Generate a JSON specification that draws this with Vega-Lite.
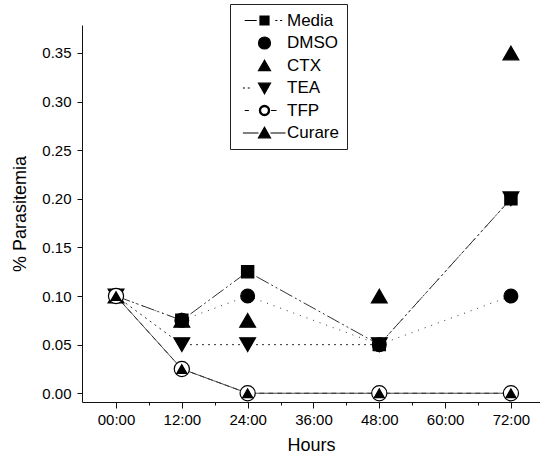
{
  "$schema": "https://vega.github.io/schema/vega-lite/v6.json",
  "width": 458,
  "height": 377,
  "autosize": {"type": "none"},
  "padding": {"left": 82, "top": 25, "right": 0, "bottom": 59},
  "background": "white",
  "config": {
    "view": {"stroke": null},
    "font": "Liberation Sans",
    "axis": {
      "domainColor": "#111",
      "domainWidth": 1,
      "tickColor": "#111",
      "tickWidth": 1,
      "grid": false,
      "labelFont": "Liberation Sans",
      "labelFontSize": 15,
      "labelColor": "#000",
      "titleFont": "Liberation Sans",
      "titleFontSize": 18,
      "titleFontWeight": "normal",
      "titleColor": "#000"
    }
  },
  "data": {
    "values": [
      {"series": "Media", "hour": 0, "value": 0.1},
      {"series": "Media", "hour": 12, "value": 0.075},
      {"series": "Media", "hour": 24, "value": 0.125},
      {"series": "Media", "hour": 48, "value": 0.05},
      {"series": "Media", "hour": 72, "value": 0.2},
      {"series": "DMSO", "hour": 0, "value": 0.1},
      {"series": "DMSO", "hour": 12, "value": 0.075},
      {"series": "DMSO", "hour": 24, "value": 0.1},
      {"series": "DMSO", "hour": 48, "value": 0.05},
      {"series": "DMSO", "hour": 72, "value": 0.1},
      {"series": "CTX", "hour": 0, "value": 0.1},
      {"series": "CTX", "hour": 12, "value": 0.075},
      {"series": "CTX", "hour": 24, "value": 0.075},
      {"series": "CTX", "hour": 48, "value": 0.1},
      {"series": "CTX", "hour": 72, "value": 0.35},
      {"series": "TEA", "hour": 0, "value": 0.1},
      {"series": "TEA", "hour": 12, "value": 0.05},
      {"series": "TEA", "hour": 24, "value": 0.05},
      {"series": "TEA", "hour": 48, "value": 0.05},
      {"series": "TEA", "hour": 72, "value": 0.2},
      {"series": "TFP", "hour": 0, "value": 0.1},
      {"series": "TFP", "hour": 12, "value": 0.025},
      {"series": "TFP", "hour": 24, "value": 0.0},
      {"series": "TFP", "hour": 48, "value": 0.0},
      {"series": "TFP", "hour": 72, "value": 0.0},
      {"series": "Curare", "hour": 0, "value": 0.1},
      {"series": "Curare", "hour": 12, "value": 0.025},
      {"series": "Curare", "hour": 24, "value": 0.0},
      {"series": "Curare", "hour": 48, "value": 0.0},
      {"series": "Curare", "hour": 72, "value": 0.0}
    ]
  },
  "encoding": {
    "x": {
      "field": "hour", "type": "quantitative",
      "scale": {"domain": [-6.2, 77.3], "nice": false, "zero": false},
      "axis": {
        "title": "Hours",
        "values": [0, 6, 12, 18, 24, 30, 36, 42, 48, 54, 60, 66, 72],
        "labelExpr": "datum.value % 12 === 0 ? (datum.value < 10 ? '0' : '') + datum.value + ':00' : ''",
        "tickSize": {"condition": {"test": "datum.value % 12 === 0", "value": 6}, "value": 3},
        "labelPadding": 4,
        "titlePadding": 9
      }
    },
    "y": {
      "field": "value", "type": "quantitative",
      "scale": {"domain": [-0.009, 0.3788], "nice": false, "zero": false},
      "axis": {
        "title": "% Parasitemia",
        "values": [0, 0.05, 0.1, 0.15, 0.2, 0.25, 0.3, 0.35],
        "format": ".2f",
        "tickSize": 5,
        "labelPadding": 6,
        "titlePadding": 12
      }
    }
  },
  "layer": [
    {
      "transform": [{"filter": "datum.series !== 'CTX'"}],
      "mark": {"type": "line", "color": "#333", "strokeWidth": 1},
      "encoding": {
        "strokeDash": {
          "field": "series", "type": "nominal",
          "scale": {
            "domain": ["Media", "DMSO", "TEA", "TFP", "Curare"],
            "range": [[14, 3, 2, 3, 2, 3], [1, 6], [2, 4], [5, 4], [1, 0]]
          },
          "legend": null
        },
        "order": {"field": "hour"}
      }
    },
    {
      "mark": {"type": "point", "filled": true, "stroke": "#000", "strokeWidth": 1.2, "opacity": 1},
      "encoding": {
        "shape": {
          "condition": [
            {"test": "datum.series === 'Media'", "value": "square"},
            {"test": "datum.series === 'CTX'", "value": "triangle-up"},
            {"test": "datum.series === 'TEA'", "value": "triangle-down"},
            {"test": "datum.series === 'Curare'", "value": "triangle-up"}
          ],
          "value": "circle"
        },
        "size": {
          "condition": [
            {"test": "datum.series === 'Media'", "value": 150},
            {"test": "datum.series === 'DMSO'", "value": 190},
            {"test": "datum.series === 'CTX'", "value": 250},
            {"test": "datum.series === 'TEA'", "value": 250},
            {"test": "datum.series === 'TFP'", "value": 230}
          ],
          "value": 100
        },
        "fill": {
          "condition": {"test": "datum.series === 'TFP'", "value": "#fff"},
          "value": "#000"
        }
      }
    },
    {
      "mark": {"type": "point", "filled": true, "fill": "#000", "stroke": "#000", "strokeWidth": 1.2, "opacity": 0},
      "encoding": {
        "shape": {
          "field": "series", "type": "nominal",
          "scale": {
            "domain": ["Media", "DMSO", "CTX", "TEA", "TFP", "Curare"],
            "range": [
              "M-3.3,0H-1.3M-0.75,-0.75H0.75V0.75H-0.75ZM1.8,0H2.15M2.6,0H2.95",
              "circle",
              "triangle-up",
              "M-3.6,0H-3.25M-2.8,0H-2.45M-1,-0.8L1,-0.8L0,0.95Z",
              "M-3.3,0H-2.6M-0.85,0A0.85,0.85,0,1,1,0.85,0A0.85,0.85,0,1,1,-0.85,0ZM-0.66,0A0.66,0.66,0,1,0,0.66,0A0.66,0.66,0,1,0,-0.66,0ZM1.1,0H2.0",
              "M-3.6,0H-1M-1,0.8L0,-0.95L1,0.8ZM1,0H3.5"
            ]
          },
          "legend": {
            "title": null,
            "orient": "none",
            "legendX": 148,
            "legendY": -21,
            "padding": 8,
            "strokeColor": "#222",
            "symbolSize": 144,
            "symbolOffset": 18,
            "labelOffset": 14,
            "rowPadding": 4.5,
            "labelFont": "Liberation Sans",
            "labelFontSize": 17,
            "labelColor": "#000",
            "labelExpr": "datum.label + '\u00a0\u00a0\u00a0'",
            "symbolOpacity": 1,
            "symbolStrokeWidth": 1.2
          }
        }
      }
    }
  ]
}
